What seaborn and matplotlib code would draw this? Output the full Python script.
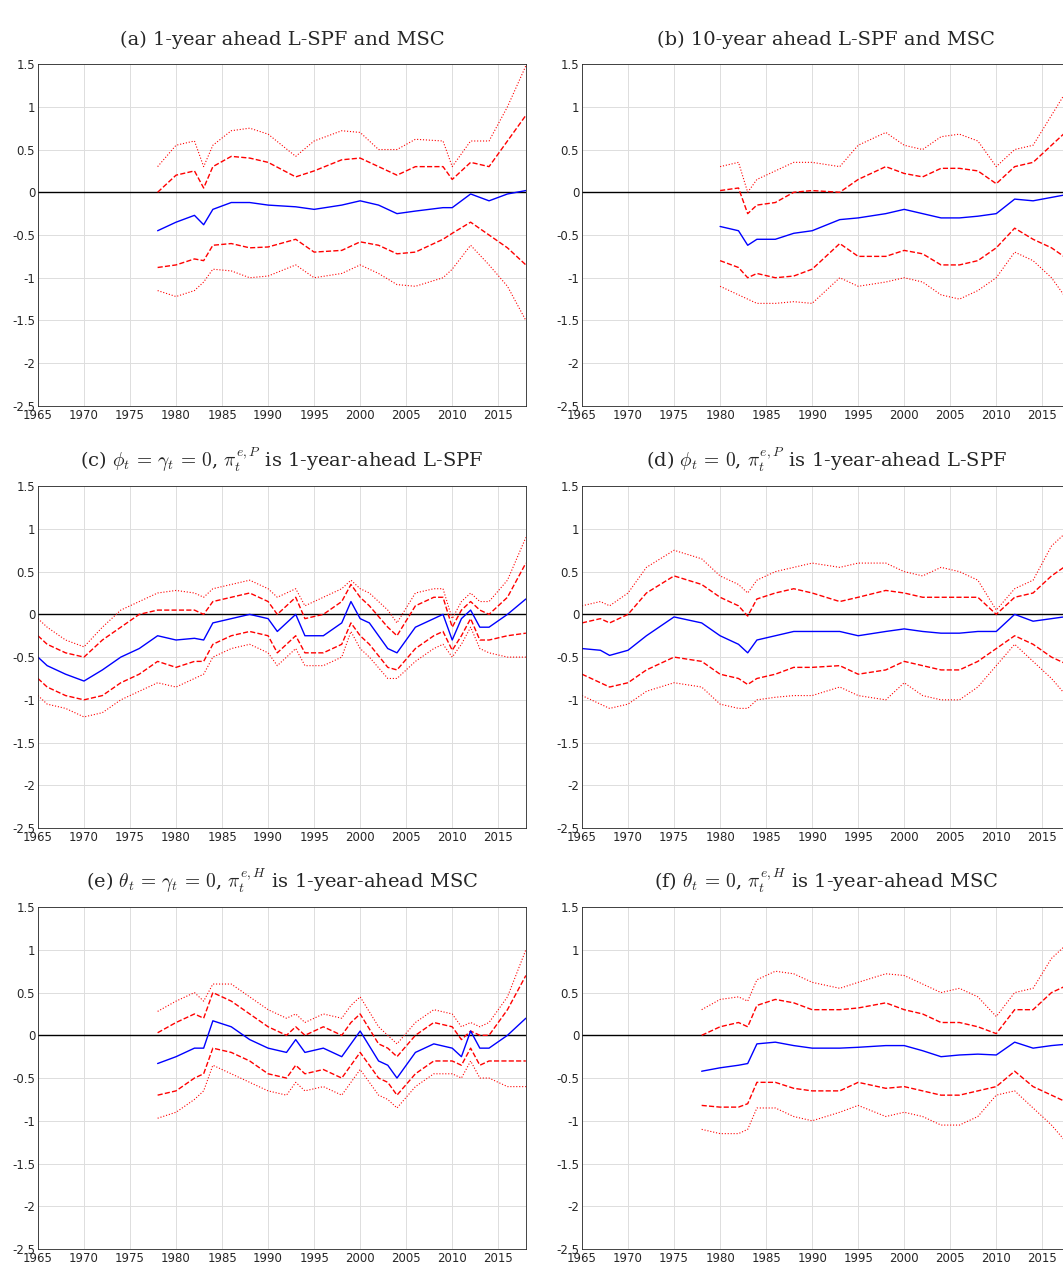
import pandas as pd
import matplotlib.pyplot as plt
import seaborn as sns

sns.set_style('white')
plt.rcParams['font.family'] = ['DejaVu Sans']
plt.rcParams['mathtext.fontset'] = 'cm'

# (a)
yrs_a = [1978,1980,1982,1983,1984,1986,1988,1990,1993,1995,1998,2000,2002,2004,2006,2009,2010,2012,2014,2016,2018]
med_a = [-0.45,-0.35,-0.27,-0.38,-0.2,-0.12,-0.12,-0.15,-0.17,-0.2,-0.15,-0.1,-0.15,-0.25,-0.22,-0.18,-0.18,-0.02,-0.1,-0.02,0.02]
iu_a = [0,0.2,0.25,0.05,0.3,0.42,0.4,0.35,0.18,0.25,0.38,0.4,0.3,0.2,0.3,0.3,0.15,0.35,0.3,0.6,0.9]
il_a = [-0.88,-0.85,-0.78,-0.8,-0.62,-0.6,-0.65,-0.64,-0.55,-0.7,-0.68,-0.58,-0.62,-0.72,-0.7,-0.55,-0.48,-0.35,-0.5,-0.65,-0.85]
ou_a = [0.3,0.55,0.6,0.3,0.55,0.72,0.75,0.68,0.42,0.6,0.72,0.7,0.5,0.5,0.62,0.6,0.3,0.6,0.6,1.0,1.48]
ol_a = [-1.15,-1.22,-1.15,-1.05,-0.9,-0.92,-1.0,-0.98,-0.85,-1.0,-0.95,-0.85,-0.95,-1.08,-1.1,-1.0,-0.9,-0.62,-0.85,-1.1,-1.5]

# (b)
yrs_b = [1980,1982,1983,1984,1986,1988,1990,1993,1995,1998,2000,2002,2004,2006,2008,2010,2012,2014,2016,2018]
med_b = [-0.4,-0.45,-0.62,-0.55,-0.55,-0.48,-0.45,-0.32,-0.3,-0.25,-0.2,-0.25,-0.3,-0.3,-0.28,-0.25,-0.08,-0.1,-0.06,-0.02]
iu_b = [0.02,0.05,-0.25,-0.15,-0.12,0.0,0.02,0.0,0.15,0.3,0.22,0.18,0.28,0.28,0.25,0.1,0.3,0.35,0.55,0.75]
il_b = [-0.8,-0.88,-1.0,-0.95,-1.0,-0.98,-0.9,-0.6,-0.75,-0.75,-0.68,-0.72,-0.85,-0.85,-0.8,-0.65,-0.42,-0.55,-0.65,-0.8]
ou_b = [0.3,0.35,0.0,0.15,0.25,0.35,0.35,0.3,0.55,0.7,0.55,0.5,0.65,0.68,0.6,0.3,0.5,0.55,0.9,1.25]
ol_b = [-1.1,-1.2,-1.25,-1.3,-1.3,-1.28,-1.3,-1.0,-1.1,-1.05,-1.0,-1.05,-1.2,-1.25,-1.15,-1.0,-0.7,-0.8,-1.0,-1.3]

# (c)
yrs_c = [1965,1966,1968,1970,1972,1974,1976,1978,1980,1982,1983,1984,1986,1988,1990,1991,1993,1994,1996,1998,1999,2000,2001,2003,2004,2006,2008,2009,2010,2011,2012,2013,2014,2016,2018]
med_c = [-0.5,-0.6,-0.7,-0.78,-0.65,-0.5,-0.4,-0.25,-0.3,-0.28,-0.3,-0.1,-0.05,0.0,-0.05,-0.2,0.0,-0.25,-0.25,-0.1,0.15,-0.05,-0.1,-0.4,-0.45,-0.15,-0.05,0.0,-0.3,-0.05,0.05,-0.15,-0.15,0.0,0.18]
iu_c = [-0.25,-0.35,-0.45,-0.5,-0.3,-0.15,0.0,0.05,0.05,0.05,0.0,0.15,0.2,0.25,0.15,0.0,0.2,-0.05,0.0,0.15,0.35,0.2,0.1,-0.15,-0.25,0.1,0.2,0.2,-0.15,0.05,0.15,0.05,0.0,0.2,0.6]
il_c = [-0.75,-0.85,-0.95,-1.0,-0.95,-0.8,-0.7,-0.55,-0.62,-0.55,-0.55,-0.35,-0.25,-0.2,-0.25,-0.45,-0.25,-0.45,-0.45,-0.35,-0.1,-0.25,-0.35,-0.62,-0.65,-0.4,-0.25,-0.2,-0.42,-0.25,-0.05,-0.3,-0.3,-0.25,-0.22]
ou_c = [-0.05,-0.15,-0.3,-0.38,-0.15,0.05,0.15,0.25,0.28,0.25,0.2,0.3,0.35,0.4,0.3,0.2,0.3,0.1,0.2,0.3,0.4,0.3,0.25,0.05,-0.1,0.25,0.3,0.3,-0.05,0.15,0.25,0.15,0.15,0.4,0.9]
ol_c = [-0.95,-1.05,-1.1,-1.2,-1.15,-1.0,-0.9,-0.8,-0.85,-0.75,-0.7,-0.5,-0.4,-0.35,-0.45,-0.6,-0.4,-0.6,-0.6,-0.5,-0.2,-0.4,-0.5,-0.75,-0.75,-0.55,-0.4,-0.35,-0.5,-0.35,-0.15,-0.4,-0.45,-0.5,-0.5]

# (d)
yrs_d = [1965,1967,1968,1970,1972,1975,1978,1980,1982,1983,1984,1986,1988,1990,1993,1995,1998,2000,2002,2004,2006,2008,2010,2012,2014,2016,2018]
med_d = [-0.4,-0.42,-0.48,-0.42,-0.25,-0.03,-0.1,-0.25,-0.35,-0.45,-0.3,-0.25,-0.2,-0.2,-0.2,-0.25,-0.2,-0.17,-0.2,-0.22,-0.22,-0.2,-0.2,0.0,-0.08,-0.05,-0.02]
iu_d = [-0.1,-0.05,-0.1,0.0,0.25,0.45,0.35,0.2,0.1,-0.02,0.18,0.25,0.3,0.25,0.15,0.2,0.28,0.25,0.2,0.2,0.2,0.2,0.0,0.2,0.25,0.45,0.6]
il_d = [-0.7,-0.8,-0.85,-0.8,-0.65,-0.5,-0.55,-0.7,-0.75,-0.82,-0.75,-0.7,-0.62,-0.62,-0.6,-0.7,-0.65,-0.55,-0.6,-0.65,-0.65,-0.55,-0.4,-0.25,-0.35,-0.5,-0.6]
ou_d = [0.1,0.15,0.1,0.25,0.55,0.75,0.65,0.45,0.35,0.25,0.4,0.5,0.55,0.6,0.55,0.6,0.6,0.5,0.45,0.55,0.5,0.4,0.05,0.3,0.4,0.8,1.0]
ol_d = [-0.95,-1.05,-1.1,-1.05,-0.9,-0.8,-0.85,-1.05,-1.1,-1.1,-1.0,-0.97,-0.95,-0.95,-0.85,-0.95,-1.0,-0.8,-0.95,-1.0,-1.0,-0.85,-0.6,-0.35,-0.55,-0.75,-1.0]

# (e)
yrs_e = [1978,1980,1982,1983,1984,1986,1988,1990,1992,1993,1994,1996,1998,1999,2000,2002,2003,2004,2006,2008,2010,2011,2012,2013,2014,2016,2018]
med_e = [-0.33,-0.25,-0.15,-0.15,0.17,0.1,-0.05,-0.15,-0.2,-0.05,-0.2,-0.15,-0.25,-0.1,0.05,-0.3,-0.35,-0.5,-0.2,-0.1,-0.15,-0.25,0.05,-0.15,-0.15,0.0,0.2]
iu_e = [0.03,0.15,0.25,0.2,0.5,0.4,0.25,0.1,0.0,0.1,0.0,0.1,0.0,0.15,0.25,-0.1,-0.15,-0.25,0.0,0.15,0.1,-0.05,0.05,0.0,0.0,0.3,0.7]
il_e = [-0.7,-0.65,-0.5,-0.45,-0.15,-0.2,-0.3,-0.45,-0.5,-0.35,-0.45,-0.4,-0.5,-0.35,-0.2,-0.5,-0.55,-0.7,-0.45,-0.3,-0.3,-0.35,-0.15,-0.35,-0.3,-0.3,-0.3]
ou_e = [0.28,0.4,0.5,0.4,0.6,0.6,0.45,0.3,0.2,0.25,0.15,0.25,0.2,0.35,0.45,0.1,0.0,-0.1,0.15,0.3,0.25,0.1,0.15,0.1,0.15,0.45,1.0]
ol_e = [-0.97,-0.9,-0.75,-0.65,-0.35,-0.45,-0.55,-0.65,-0.7,-0.55,-0.65,-0.6,-0.7,-0.55,-0.4,-0.7,-0.75,-0.85,-0.6,-0.45,-0.45,-0.5,-0.3,-0.5,-0.5,-0.6,-0.6]

# (f)
yrs_f = [1978,1980,1982,1983,1984,1986,1988,1990,1993,1995,1998,2000,2002,2004,2006,2008,2010,2012,2014,2016,2018]
med_f = [-0.42,-0.38,-0.35,-0.33,-0.1,-0.08,-0.12,-0.15,-0.15,-0.14,-0.12,-0.12,-0.18,-0.25,-0.23,-0.22,-0.23,-0.08,-0.15,-0.12,-0.1]
iu_f = [0.0,0.1,0.15,0.1,0.35,0.42,0.38,0.3,0.3,0.32,0.38,0.3,0.25,0.15,0.15,0.1,0.02,0.3,0.3,0.5,0.6]
il_f = [-0.82,-0.84,-0.84,-0.8,-0.55,-0.55,-0.62,-0.65,-0.65,-0.55,-0.62,-0.6,-0.65,-0.7,-0.7,-0.65,-0.6,-0.42,-0.6,-0.7,-0.8]
ou_f = [0.3,0.42,0.45,0.4,0.65,0.75,0.72,0.62,0.55,0.62,0.72,0.7,0.6,0.5,0.55,0.45,0.22,0.5,0.55,0.9,1.1]
ol_f = [-1.1,-1.15,-1.15,-1.1,-0.85,-0.85,-0.95,-1.0,-0.9,-0.82,-0.95,-0.9,-0.95,-1.05,-1.05,-0.95,-0.7,-0.65,-0.85,-1.05,-1.3]

titles = [r'(a) 1-year ahead L-SPF and MSC',
          r'(b) 10-year ahead L-SPF and MSC',
          r'(c) $\phi_t\,=\,\boldsymbol{\gamma_t}\,=\,0$, $\pi_t^{e,P}$ is 1-year-ahead L-SPF',
          r'(d) $\phi_t\,=\,0$, $\pi_t^{e,P}$ is 1-year-ahead L-SPF',
          r'(e) $\theta_t\,=\,\boldsymbol{\gamma_t}\,=\,0$, $\pi_t^{e,H}$ is 1-year-ahead MSC',
          r'(f) $\theta_t\,=\,0$, $\pi_t^{e,H}$ is 1-year-ahead MSC']

panels = [(yrs_a, med_a, iu_a, il_a, ou_a, ol_a),
          (yrs_b, med_b, iu_b, il_b, ou_b, ol_b),
          (yrs_c, med_c, iu_c, il_c, ou_c, ol_c),
          (yrs_d, med_d, iu_d, il_d, ou_d, ol_d),
          (yrs_e, med_e, iu_e, il_e, ou_e, ol_e),
          (yrs_f, med_f, iu_f, il_f, ou_f, ol_f)]

fig = plt.figure(figsize=(10.63, 12.71), dpi=100)
lefts = [0.0357, 0.5475]
bottoms = [0.6806, 0.3485, 0.0173]

for i, (yrs, med, iu, il, ou, ol) in enumerate(panels):
    ax = fig.add_axes([lefts[i % 2], bottoms[i // 2], 0.459, 0.269])
    df = pd.DataFrame({'year': yrs, 'med': med, 'iu': iu, 'il': il, 'ou': ou, 'ol': ol})
    ax.axhline(0, color='black', lw=1)
    for col in ['ou', 'ol']:
        sns.lineplot(data=df, x='year', y=col, ax=ax, color='red', lw=0.8, linestyle=':')
    for col in ['iu', 'il']:
        sns.lineplot(data=df, x='year', y=col, ax=ax, color='red', lw=1.0, linestyle='--')
    sns.lineplot(data=df, x='year', y='med', ax=ax, color='blue', lw=1.0)
    ax.set_xlim(1965, 2018)
    ax.set_ylim(-2.5, 1.5)
    ax.set_xticks(range(1965, 2016, 5))
    ax.set_yticks([-2.5, -2, -1.5, -1, -0.5, 0, 0.5, 1, 1.5])
    ax.set_yticklabels(['-2.5', '-2', '-1.5', '-1', '-0.5', '0', '0.5', '1', '1.5'])
    ax.tick_params(labelsize=8.5, direction='in', length=3, pad=2)
    ax.grid(True, color='#dddddd', lw=0.7)
    ax.set_xlabel('')
    ax.set_ylabel('')
    for s in ax.spines.values():
        s.set_color('#262626')
        s.set_linewidth(0.6)
    ax.set_title(titles[i], family='DejaVu Serif', fontsize=14, pad=14)

fig.savefig('out.png', dpi=100)
